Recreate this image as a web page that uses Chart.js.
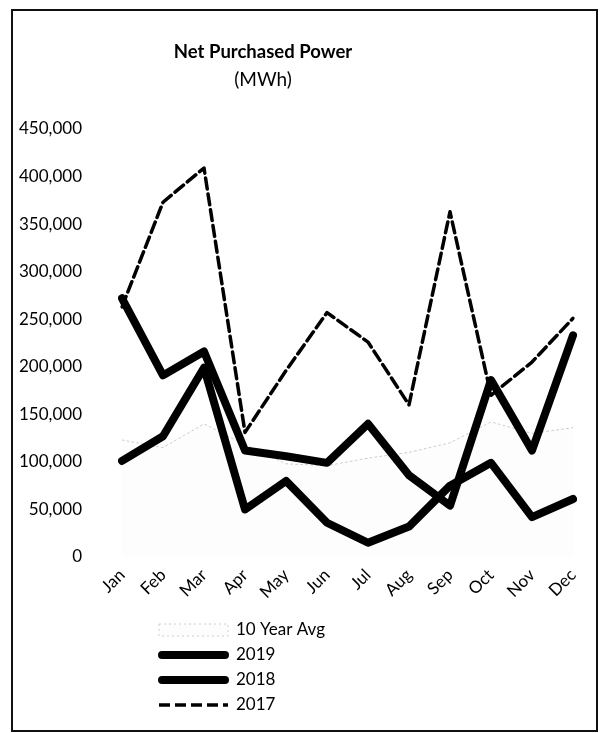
<!DOCTYPE html>
<html lang="en">
<head>
<meta charset="utf-8">
<title>Net Purchased Power</title>
<script src="https://cdn.jsdelivr.net/npm/chart.js"></script>
<style>
  body { margin: 0; background: #fff; }
  #wrap { position: relative; width: 600px; height: 733px; }
  #frame { position: absolute; left: 11px; top: 9px; width: 587px; height: 723px;
           border: 2px solid #111; box-sizing: border-box; pointer-events: none; }
</style>
</head>
<body>
<div id="wrap">
  <canvas id="power-chart" width="600" height="733"></canvas>
  <div id="frame"></div>
</div>
<script>
  // values (MWh)
  var months = ['Jan', 'Feb', 'Mar', 'Apr', 'May', 'Jun', 'Jul', 'Aug', 'Sep', 'Oct', 'Nov', 'Dec'];
  var avg10 = [123000, 115000, 140000, 118000, 98000, 96000, 104000, 110000, 120000, 142000, 130000, 136000];
  var y2019 = [272000, 191000, 216000, 112000, 106000, 99000, 140000, 86000, 54000, 186000, 112000, 233000];
  var y2018 = [101000, 127000, 199000, 50000, 80000, 36000, 15000, 32000, 75000, 99000, 42000, 61000];
  var y2017 = [263000, 373000, 409000, 131000, 196000, 257000, 226000, 160000, 363000, 170000, 205000, 251000];
  var yMax = 450000;
  var yStep = 50000;
  var titleText = 'Net Purchased Power';
  var subtitleText = '(MWh)';

  var font = 'Lato';

  // title sits left of the canvas centre in the original, so draw it by hand
  var titlePlugin = {
    id: 'twoLineTitle',
    afterDraw: function(chart) {
      var ctx = chart.ctx;
      ctx.save();
      ctx.fillStyle = '#000';
      ctx.textAlign = 'center';
      ctx.textBaseline = 'middle';
      ctx.font = 'bold 18.5px ' + font;
      ctx.fillText(titleText, 263, 52);
      ctx.font = '19px ' + font;
      ctx.fillText(subtitleText, 263, 80);
      ctx.restore();
    }
  };

  // stacked legend under the axis
  var legendPlugin = {
    id: 'stackLegend',
    afterDraw: function(chart) {
      var ctx = chart.ctx;
      var x0 = 159, x1 = 228, top = 630, step = 25;
      chart.data.datasets.forEach(function(ds, i) {
        var y = top + i * step;
        ctx.save();
        if (ds.fill) {
          ctx.fillStyle = ds.backgroundColor;
          ctx.fillRect(x0, y - 6, x1 - x0, 12);
          ctx.strokeStyle = ds.borderColor;
          ctx.lineWidth = 1;
          ctx.setLineDash(ds.borderDash || []);
          ctx.strokeRect(x0, y - 6, x1 - x0, 12);
        } else {
          ctx.beginPath();
          ctx.strokeStyle = ds.borderColor;
          ctx.lineWidth = ds.borderWidth;
          ctx.setLineDash(ds.borderDash || []);
          ctx.lineCap = ds.borderDash ? 'butt' : 'round';
          ctx.moveTo(x0 + (ds.borderDash ? 0 : 3), y);
          ctx.lineTo(x1 - (ds.borderDash ? 0 : 3), y);
          ctx.stroke();
        }
        ctx.setLineDash([]);
        ctx.fillStyle = '#000';
        ctx.font = '17px ' + font;
        ctx.textAlign = 'left';
        ctx.textBaseline = 'middle';
        ctx.fillText(ds.label, 236, y);
        ctx.restore();
      });
    }
  };

  new Chart(document.getElementById('power-chart'), {
    type: 'line',
    data: {
      labels: months,
      datasets: [
        {
          label: '10 Year Avg',
          data: avg10,
          borderColor: '#cdcdcd',
          borderWidth: 1,
          borderDash: [2, 3],
          backgroundColor: '#fdfdfd',
          fill: 'origin',
          order: 4
        },
        {
          label: '2019',
          data: y2019,
          borderColor: '#000',
          borderWidth: 8,
          fill: false,
          order: 2
        },
        {
          label: '2018',
          data: y2018,
          borderColor: '#000',
          borderWidth: 8,
          fill: false,
          order: 3
        },
        {
          label: '2017',
          data: y2017,
          borderColor: '#000',
          borderWidth: 3.5,
          borderDash: [11, 5],
          fill: false,
          order: 1
        }
      ]
    },
    options: {
      responsive: false,
      animation: false,
      devicePixelRatio: 1,
      layout: { padding: { left: 17, right: 27, top: 129, bottom: 126 } },
      elements: {
        line: { tension: 0, borderJoinStyle: 'round', borderCapStyle: 'round' },
        point: { radius: 0 }
      },
      plugins: {
        legend: { display: false },
        title: { display: false },
        tooltip: { enabled: false },
        filler: { drawTime: 'beforeDatasetsDraw' }
      },
      scales: {
        x: {
          grid: { display: false, drawTicks: false },
          border: { display: false },
          ticks: {
            minRotation: 45,
            maxRotation: 45,
            padding: 8,
            color: '#000',
            font: { family: font, size: 17 }
          },
          afterFit: function(scale) { scale.height = 50; }
        },
        y: {
          min: 0,
          max: yMax,
          grid: { display: false, drawTicks: false },
          border: { display: false },
          ticks: {
            stepSize: yStep,
            padding: 40,
            color: '#000',
            font: { family: font, size: 17 },
            callback: function(v) { return v.toLocaleString('en-US'); }
          },
          afterFit: function(scale) { scale.width = 105; }
        }
      }
    },
    plugins: [titlePlugin, legendPlugin]
  });
</script>
</body>
</html>
